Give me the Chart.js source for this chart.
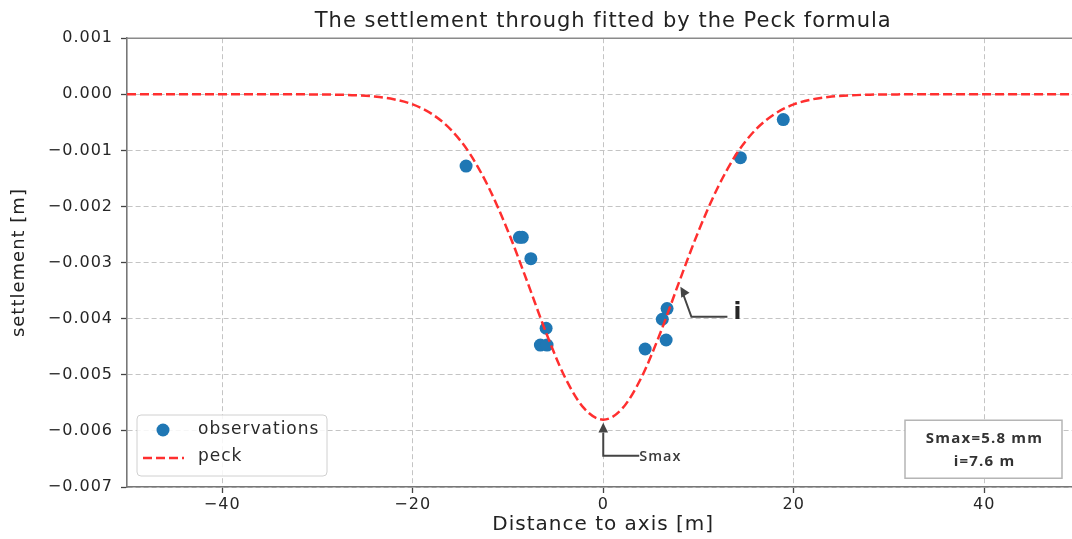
<!DOCTYPE html>
<html><head><meta charset="utf-8">
<script src="https://cdn.jsdelivr.net/npm/chart.js@4"></script>
<style>html,body{margin:0;padding:0;overflow:hidden;background:#fff}#wrap{width:1086px;height:539px}</style>
</head><body><div id="wrap"><canvas id="c" width="1086" height="539"></canvas></div>
<script>
const chartTitle = 'The settlement through fitted by the Peck formula';
const xTitle = 'Distance to axis [m]';
const yTitle = 'settlement [m]';
const xTicks = [-40, -20, 0, 20, 40];
const yTicks = [0.001, 0, -0.001, -0.002, -0.003, -0.004, -0.005, -0.006, -0.007];
const obsX = [-14.4, -8.8, -8.5, -7.6, -6.0, -6.6, -5.9, 4.4, 6.2, 6.6, 6.7, 14.4, 18.9];
const obsY = [-0.00128, -0.00255, -0.00255, -0.00293, -0.00417, -0.00447, -0.00447, -0.00454, -0.00401, -0.00438, -0.00382, -0.00113, -0.00045];
const peckX = [-50, -40, -35, -30, -28, -26, -24, -22, -20, -18, -16, -14, -12, -10, -8, -6, -4, -2, 0, 2, 4, 6, 8, 10, 12, 14, 16, 18, 20, 22, 24, 26, 28, 30, 35, 40, 50];
const peckY = [0, 0, -0.0000003, -0.0000024, -0.0000065, -0.000017, -0.00004, -0.000088, -0.00018, -0.00035, -0.00063, -0.00106, -0.00167, -0.00244, -0.00333, -0.00425, -0.00505, -0.0056, -0.0058, -0.0056, -0.00505, -0.00425, -0.00333, -0.00244, -0.00167, -0.00106, -0.00063, -0.00035, -0.00018, -0.000088, -0.00004, -0.000017, -0.0000065, -0.0000024, -0.0000003, 0, 0];
const legendLabels = ['observations', 'peck'];
const infoLines = ['Smax=5.8 mm', 'i=7.6 m'];

function fmt(v, d) {
  const m = Math.pow(10, d);
  const r = Math.round(v * m) / m;
  return (r < 0 ? '\u2212' : '') + Math.abs(r).toFixed(d);
}

const spacing = {
  id: 'spacing',
  beforeLayout(chart) { chart.ctx.letterSpacing = '1px'; },
  beforeDraw(chart) { chart.ctx.letterSpacing = '1px'; }
};

function arrowHead(ctx, x1, y1, x2, y2, size) {
  const a = Math.atan2(y2 - y1, x2 - x1);
  ctx.beginPath();
  ctx.moveTo(x2, y2);
  ctx.lineTo(x2 - size * Math.cos(a - 0.45), y2 - size * Math.sin(a - 0.45));
  ctx.lineTo(x2 - size * Math.cos(a + 0.45), y2 - size * Math.sin(a + 0.45));
  ctx.closePath();
  ctx.fill();
}

const extras = {
  id: 'extras',
  afterDraw(chart) {
    const ctx = chart.ctx;
    const ca = chart.chartArea;
    const xs = chart.scales.x, ys = chart.scales.y;
    ctx.save();
    // top spine
    ctx.strokeStyle = '#8a8a8a';
    ctx.lineWidth = 1.6;
    ctx.beginPath(); ctx.moveTo(ca.left, ca.top); ctx.lineTo(ca.right, ca.top); ctx.stroke();

    // legend
    const lx = ca.left + 10, ly = ca.bottom - 72, lw = 190, lh = 61;
    ctx.fillStyle = 'rgba(255,255,255,0.85)';
    ctx.strokeStyle = '#d0d0d0';
    ctx.lineWidth = 1;
    ctx.beginPath();
    ctx.roundRect(lx, ly, lw, lh, 4);
    ctx.fill(); ctx.stroke();
    ctx.fillStyle = '#1f77b4';
    ctx.beginPath(); ctx.arc(lx + 26, ly + 15, 6.5, 0, Math.PI * 2); ctx.fill();
    ctx.strokeStyle = '#ff2f2f';
    ctx.lineWidth = 2.5;
    ctx.setLineDash([9, 4]);
    ctx.beginPath(); ctx.moveTo(lx + 6, ly + 43); ctx.lineTo(lx + 47, ly + 43); ctx.stroke();
    ctx.setLineDash([]);
    ctx.fillStyle = '#2a2a2a';
    ctx.font = '17px "DejaVu Sans"';
    ctx.textBaseline = 'middle';
    ctx.textAlign = 'left';
    ctx.letterSpacing = '1px';
    ctx.fillText(legendLabels[0], lx + 61, ly + 15);
    ctx.fillText(legendLabels[1], lx + 61, ly + 42);

    // Smax annotation
    ctx.strokeStyle = '#444';
    ctx.fillStyle = '#444';
    ctx.lineWidth = 2;
    const sx = xs.getPixelForValue(0), sy = ys.getPixelForValue(-0.0058) + 3;
    ctx.beginPath(); ctx.moveTo(sx + 36, sy + 33); ctx.lineTo(sx, sy + 33); ctx.lineTo(sx, sy + 10); ctx.stroke();
    arrowHead(ctx, sx, sy + 20, sx, sy, 11);
    ctx.font = '600 14.5px "Open Sans"';
    ctx.letterSpacing = '1px';
    ctx.fillStyle = '#3a3a3a';
    ctx.fillText('Smax', sx + 36, sy + 34);

    // i annotation
    const ix = xs.getPixelForValue(8.1), iy = ys.getPixelForValue(-0.00343);
    ctx.strokeStyle = '#444';
    ctx.fillStyle = '#444';
    ctx.beginPath(); ctx.moveTo(ix + 47, iy + 30); ctx.lineTo(ix + 11, iy + 30); ctx.lineTo(ix + 3, iy + 8); ctx.stroke();
    arrowHead(ctx, ix + 7, iy + 12, ix, iy, 11);
    ctx.font = 'bold 23px "DejaVu Sans"';
    ctx.letterSpacing = '0px';
    ctx.fillStyle = '#262626';
    ctx.fillText('i', ix + 53, iy + 26);

    // info box
    const bx = ca.left + 778, by = ys.getPixelForValue(-0.00581), bw = 157, bh = 58;
    ctx.fillStyle = '#fff';
    ctx.fillRect(bx, by, bw, bh);
    ctx.strokeStyle = '#b5b5b5';
    ctx.lineWidth = 1.5;
    ctx.strokeRect(bx, by, bw, bh);
    ctx.fillStyle = '#333';
    ctx.font = 'bold 15px "Open Sans"';
    ctx.letterSpacing = '1.2px';
    ctx.textAlign = 'center';
    ctx.fillText(infoLines[0], bx + bw / 2 + 1, by + 18);
    ctx.fillText(infoLines[1], bx + bw / 2 + 1, by + 41);
    ctx.restore();
  }
};

new Chart(document.getElementById('c'), {
  type: 'scatter',
  data: {
    datasets: [
      {
        label: legendLabels[1],
        data: peckX.map((x, i) => ({ x: x, y: peckY[i] })),
        showLine: true,
        borderColor: '#ff2f2f',
        borderWidth: 2.5,
        borderDash: [9, 4],
        pointRadius: 0,
        cubicInterpolationMode: 'monotone',
        order: 0
      },
      {
        label: legendLabels[0],
        data: obsX.map((x, i) => ({ x: x, y: obsY[i] })),
        backgroundColor: '#1f77b4',
        borderColor: '#1f77b4',
        borderWidth: 0,
        pointRadius: 6.5,
        order: 1
      }
    ]
  },
  options: {
    responsive: false,
    animation: false,
    devicePixelRatio: 1,
    layout: { padding: { left: 0, right: 0, top: 0, bottom: 0 } },
    plugins: {
      legend: { display: false },
      tooltip: { enabled: false },
      title: {
        display: true,
        fullSize: false,
        text: chartTitle,
        color: '#222',
        font: { family: 'DejaVu Sans', size: 21, weight: 'normal' },
        padding: { top: 9, bottom: 4 }
      }
    },
    scales: {
      x: {
        type: 'linear',
        min: -50, max: 50,
        afterBuildTicks: s => { s.ticks = xTicks.map(v => ({ value: v })); },
        afterFit: s => { s.height = 52; },
        ticks: {
          color: '#262626',
          font: { family: 'DejaVu Sans', size: 16 },
          padding: 2,
          maxRotation: 0,
          callback: v => fmt(v, 0)
        },
        grid: { color: '#c4c4c4', lineWidth: 1, tickLength: 6, tickColor: '#444', tickWidth: 1.3, tickBorderDash: [] },
        border: { display: true, color: '#777', width: 1.6, dash: [5, 3] },
        title: {
          display: true, text: xTitle, color: '#222',
          font: { family: 'DejaVu Sans', size: 20 },
          padding: { top: 0, bottom: 2 }
        }
      },
      y: {
        min: -0.007, max: 0.001,
        afterBuildTicks: s => { s.ticks = yTicks.map(v => ({ value: v })); },
        afterFit: s => { s.width = 127; },
        ticks: {
          color: '#262626',
          font: { family: 'DejaVu Sans', size: 16 },
          padding: 8,
          callback: v => fmt(v, 3)
        },
        grid: { color: '#c4c4c4', lineWidth: 1, tickLength: 6, tickColor: '#444', tickWidth: 1.3, tickBorderDash: [] },
        border: { display: true, color: '#777', width: 1.6, dash: [5, 3] },
        title: {
          display: true, text: yTitle, color: '#222',
          font: { family: 'DejaVu Sans', size: 18 },
          padding: { top: 9, bottom: 0 }
        }
      }
    }
  },
  plugins: [spacing, extras]
});
</script></body></html>
